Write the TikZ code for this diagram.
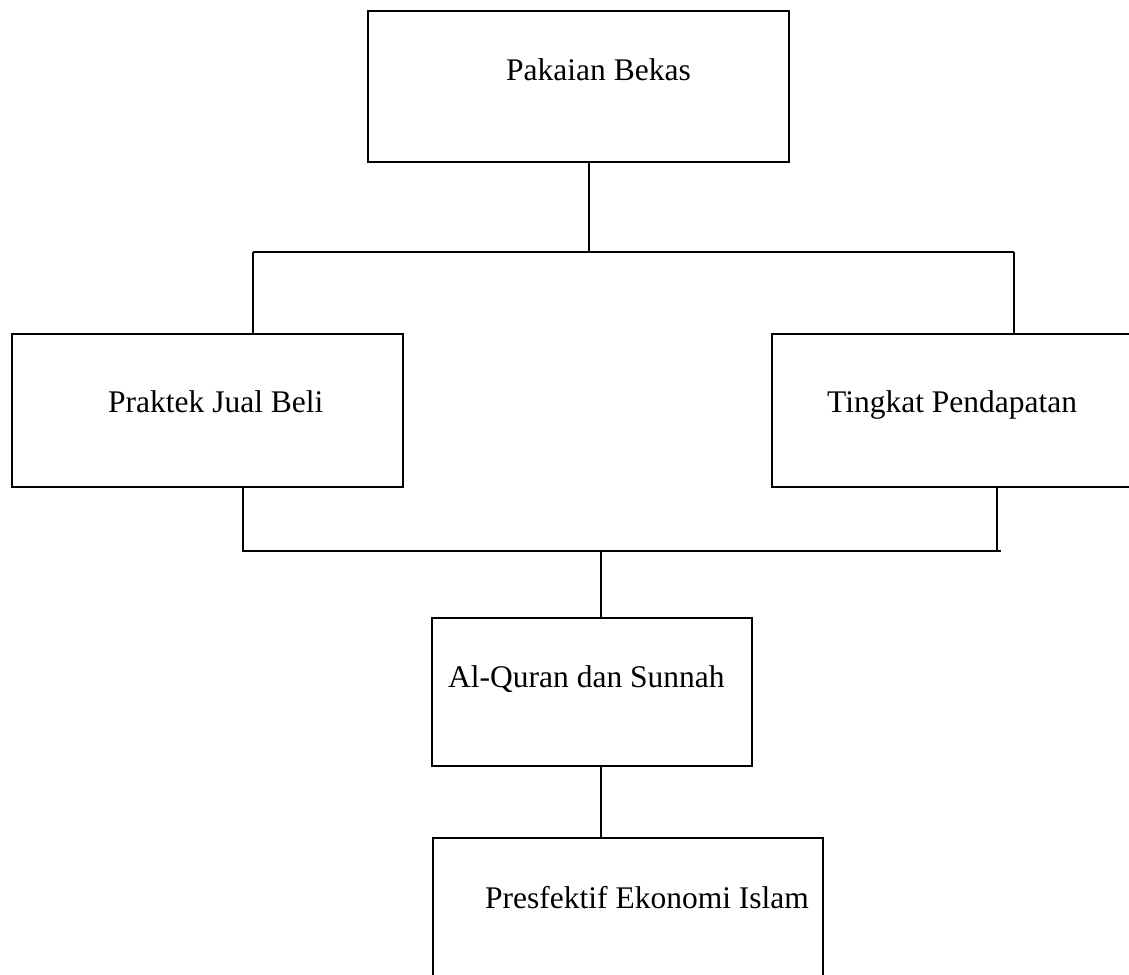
\documentclass[tikz,border=0pt]{standalone}
\usepackage{fontspec}
\setmainfont{Liberation Serif}
\begin{document}
\begin{tikzpicture}[x=1pt,y=-1pt,
  box/.style={draw=black,line width=1.8pt,rectangle,inner sep=0pt},
  lbl/.style={anchor=base west,inner sep=0pt,font=\fontsize{31.5}{36}\selectfont},
  conn/.style={draw=black,line width=1.8pt}]
\useasboundingbox (0,0) rectangle (1129,974);
\clip (0,0) rectangle (1129,974);
% boxes
\node[box,minimum width=421pt,minimum height=151pt] (top) at (578.5,86.5) {};
\node[box,minimum width=391pt,minimum height=153pt] (left) at (207.5,410.5) {};
\node[box,minimum width=380pt,minimum height=153pt] (right) at (962,410.5) {};
\node[box,minimum width=320pt,minimum height=148pt] (quran) at (592,692) {};
\node[box,minimum width=390pt,minimum height=170pt] (bottom) at (628,923) {};
% texts
\node[lbl] (t1) at (506,81) {Pakaian Bekas};
\node[lbl] (t2) at (108,412) {Praktek Jual Beli};
\node[lbl] (t3) at (827,412) {Tingkat Pendapatan};
\node[lbl] (t4) at (448,687) {Al-Quran dan Sunnah};
\node[lbl] (t5) at (485,908) {Presfektif Ekonomi Islam};
% junctions
\coordinate (ja) at (589,252);
\coordinate (jl) at (253,252);
\coordinate (jr) at (1014,252);
\coordinate (jb) at (601,551);
\coordinate (kl) at (243,551);
\coordinate (kr) at (997,551);
% connectors
\draw[conn] (top.south -| ja) -- (ja);
\draw[conn] (jl) -- (jr);
\draw[conn] (jl) -- (left.north -| jl);
\draw[conn] (jr) -- (right.north -| jr);
\draw[conn] (left.south -| kl) -- (kl) -- ([xshift=4pt]kr);
\draw[conn] (right.south -| kr) -- (kr);
\draw[conn] (jb) -- (quran.north -| jb);
\draw[conn] (quran.south -| jb) -- (bottom.north -| jb);
\end{tikzpicture}
\end{document}
